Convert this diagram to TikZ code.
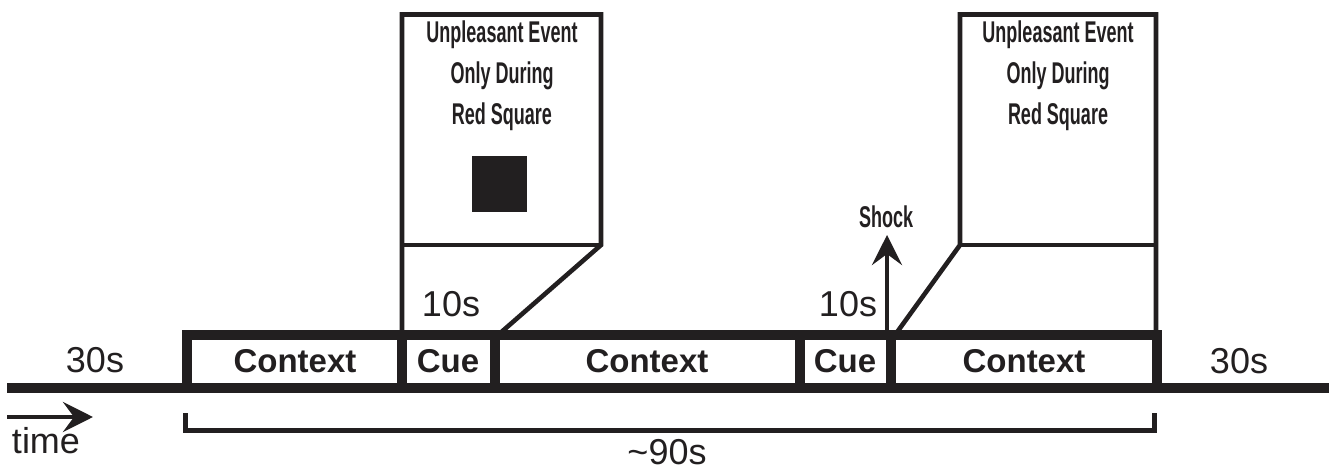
\documentclass[tikz,border=0pt]{standalone}
\usepackage{fontspec}
\setmainfont{Liberation Sans}
\newfontfamily\narrowfont[FakeStretch=0.6]{Liberation Sans}
\usetikzlibrary{arrows.meta}
\definecolor{ink}{RGB}{34,31,32}
\tikzset{
  thick line/.style={draw=ink, line width=10.5pt, line join=miter},
  thin line/.style={draw=ink, line width=4.6pt, line join=miter},
  boxlabel/.style={text=ink, inner sep=0pt, font=\fontsize{33}{38}\selectfont\bfseries},
  durlabel/.style={text=ink, inner sep=0pt, font=\fontsize{36}{40}\selectfont},
  poplabel/.style={text=ink, inner sep=0pt, align=center, font=\narrowfont\fontsize{30}{41}\selectfont\bfseries},
  arr/.style={draw=ink, line width=4.5pt, -{Stealth[length=30pt,width=30pt,inset=11pt]}}
}
\begin{document}
\begin{tikzpicture}[x=1pt,y=-1pt]
\useasboundingbox (0,0) rectangle (1329,470);
% timeline
\coordinate (tl0) at (7,388);
\coordinate (tl1) at (1329,388);
\draw[thick line] (tl0) -- (tl1);
% frame
\draw[thick line] (187,388) -- (187,335) -- (1157,335) -- (1157,388);
\foreach \x in {402,495,800,891} \draw[thick line] (\x,335) -- (\x,388);
% popup 1
\draw[thin line] (402,335) -- (402,14.5) -- (601,14.5) -- (601,245) -- (498,335);
\draw[thin line] (402,245) -- (601,245);
\fill[ink] (472,156) rectangle (527,212);
\node[poplabel] (pop1) at (502,76) {Unpleasant Event\\Only During\\Red Square};
% popup 2
\draw[thin line] (895,335) -- (960,245) -- (960,14.5) -- (1156,14.5) -- (1156,335);
\draw[thin line] (960,245) -- (1156,245);
\node[poplabel] (pop2) at (1058,76) {Unpleasant Event\\Only During\\Red Square};
% box labels
\node[boxlabel] (ctx1) at (295,361) {Context};
\node[boxlabel] (cue1) at (448,361) {Cue};
\node[boxlabel] (ctx2) at (647,361) {Context};
\node[boxlabel] (cue2) at (845,361) {Cue};
\node[boxlabel] (ctx3) at (1024,361) {Context};
% durations
\node[durlabel] (d30a) at (95,360) {30s};
\node[durlabel] (d30b) at (1239,361) {30s};
\node[durlabel] (d10a) at (451,304) {10s};
\node[durlabel] (d10b) at (848,304) {10s};
% shock
\node[poplabel] (shock) at (886,217) {Shock};
\coordinate (shockbase) at (887,335);
\coordinate (shocktip) at (887,235);
\draw[arr] (shockbase) -- (shocktip);
% time arrow
\coordinate (ta0) at (7,417);
\coordinate (ta1) at (93,417);
\draw[arr] (ta0) -- (ta1);
\node[durlabel] (time) at (46,441) {time};
% bracket
\draw[draw=ink, line width=5pt, line join=miter] (185,413) -- (185,430) -- (1154,430) -- (1154,413);
\node[durlabel] (d90) at (667,452) {\textasciitilde 90s};
\end{tikzpicture}
\end{document}
